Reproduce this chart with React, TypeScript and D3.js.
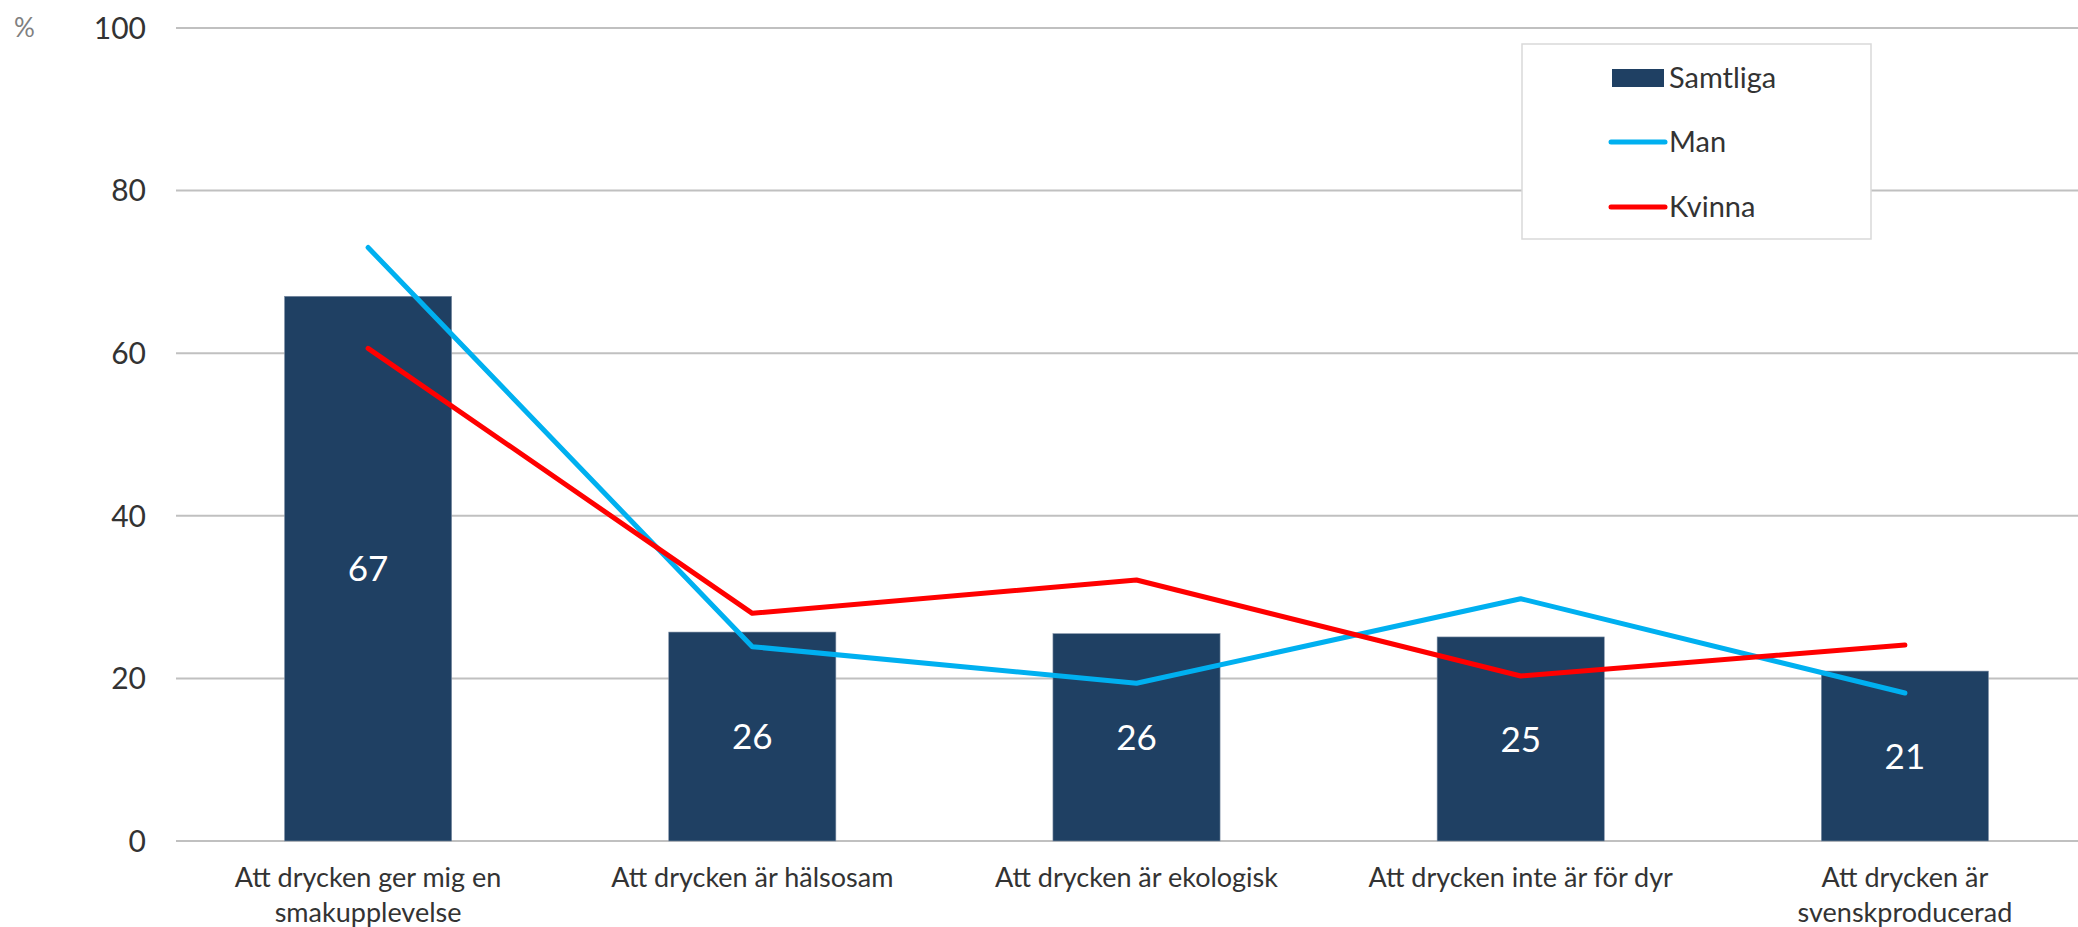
import React from 'react';
import * as d3 from 'd3';

const categories: string[][] = [
  ['Att drycken ger mig en', 'smakupplevelse'],
  ['Att drycken är hälsosam'],
  ['Att drycken är ekologisk'],
  ['Att drycken inte är för dyr'],
  ['Att drycken är', 'svenskproducerad'],
];
const samtliga = [67, 25.7, 25.5, 25.1, 20.9];
const man = [73, 23.9, 19.4, 29.8, 18.2];
const kvinna = [60.6, 28, 32.1, 20.3, 24.1];
const yTicks = [0, 20, 40, 60, 80, 100];

const W = 2078;
const H = 927;
const FONT = 'Lato, "Open Sans", sans-serif';

const App: React.FC = () => {
  const x = d3.scaleBand<number>()
    .domain(d3.range(categories.length))
    .range([176, 2097])
    .paddingInner(0.565)
    .paddingOuter(0.2825);
  const y = d3.scaleLinear().domain([0, 100]).range([841, 28]);
  const cx = (i: number) => (x(i) as number) + x.bandwidth() / 2;

  const line = d3.line<number>()
    .x((_, i) => cx(i))
    .y(d => y(d));

  const fmt = d3.format('.0f');

  return (
    <svg width={W} height={H} style={{ position: 'absolute', left: 0, top: 0 }}>
      <rect width={W} height={H} fill="#fff" />
      {/* gridlines */}
      {yTicks.map(t => (
        <line key={t} x1={176} x2={W} y1={y(t)} y2={y(t)} stroke="#c0c0c0" strokeWidth={2} />
      ))}
      {yTicks.map(t => (
        <text key={'t' + t} x={146} y={y(t)} dy="0.36em" textAnchor="end"
          fontFamily={FONT} fontSize={30} fill="#333">{t}</text>
      ))}
      <text x={14} y={28} dy="0.36em" fontFamily={FONT} fontSize={26} fill="#808080">%</text>

      {/* bars */}
      {samtliga.map((v, i) => (
        <rect key={'b' + i} x={x(i)} y={y(v)} width={x.bandwidth()} height={y(0) - y(v)}
          fill="#1f4063" stroke="#7f8fa6" strokeWidth={0.6} />
      ))}
      {samtliga.map((v, i) => (
        <text key={'l' + i} x={cx(i)} y={(y(v) + y(0)) / 2} dy="0.36em" textAnchor="middle"
          fontFamily={FONT} fontSize={35} fill="#fff">{fmt(v)}</text>
      ))}

      {/* lines */}
      <path d={line(man) || ''} fill="none" stroke="#00b0f0" strokeWidth={5}
        strokeLinecap="round" strokeLinejoin="round" />
      <path d={line(kvinna) || ''} fill="none" stroke="#ff0000" strokeWidth={5}
        strokeLinecap="round" strokeLinejoin="round" />

      {/* category labels */}
      {categories.map((lines, i) => (
        <text key={'c' + i} x={cx(i)} y={877} textAnchor="middle" fontFamily={FONT}
          fontSize={27} fill="#333">
          {lines.map((s, j) => (
            <tspan key={j} x={cx(i)} dy={j === 0 ? '0.36em' : 35}>{s}</tspan>
          ))}
        </text>
      ))}

      {/* legend */}
      <g>
        <rect x={1522} y={44} width={349} height={195} fill="#fff" stroke="#d9d9d9" strokeWidth={1.5} />
        <rect x={1612} y={69} width={52} height={18} fill="#1f4063" />
        <text x={1669} y={78} dy="0.36em" fontFamily={FONT} fontSize={29} fill="#333">Samtliga</text>
        <line x1={1611} x2={1665} y1={142} y2={142} stroke="#00b0f0" strokeWidth={5} strokeLinecap="round" />
        <text x={1669} y={142} dy="0.36em" fontFamily={FONT} fontSize={29} fill="#333">Man</text>
        <line x1={1611} x2={1665} y1={207} y2={207} stroke="#ff0000" strokeWidth={5} strokeLinecap="round" />
        <text x={1669} y={207} dy="0.36em" fontFamily={FONT} fontSize={29} fill="#333">Kvinna</text>
      </g>
    </svg>
  );
};

export default App;
